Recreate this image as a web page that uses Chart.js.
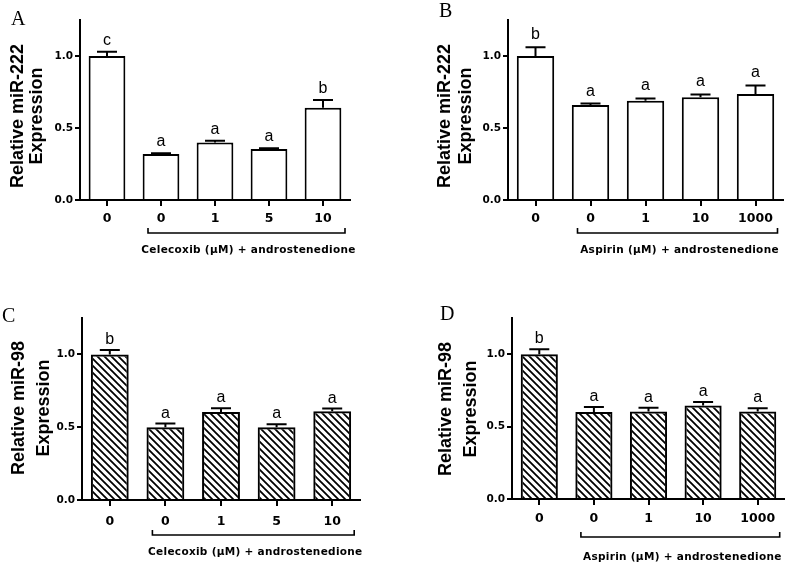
<!DOCTYPE html>
<html>
<head>
<meta charset="utf-8">
<script src="https://cdn.jsdelivr.net/npm/chart.js@4/dist/chart.umd.min.js"></script>
<style>
  body { margin: 0; background: #fff; }
  #page { position: relative; width: 785px; height: 563px; overflow: hidden; background: #fff; }
  canvas { position: absolute; }
</style>
</head>
<body>
<div id="page">
  <canvas id="panelA" width="390" height="280" style="left:0;top:0"></canvas>
  <canvas id="panelB" width="395" height="280" style="left:390px;top:0"></canvas>
  <canvas id="panelC" width="390" height="283" style="left:0;top:280px"></canvas>
  <canvas id="panelD" width="395" height="283" style="left:390px;top:280px"></canvas>
</div>
<script>
// doses on the x axis
const celecoxibDoses = ['0', '0', '1', '5', '10'];
const aspirinDoses = ['0', '0', '1', '10', '1000'];
const yTickValues = [0, 0.5, 1.0];

// A: miR-222, celecoxib
const mir222Celecoxib = [1.0, 0.32, 0.40, 0.355, 0.64];
const mir222CelecoxibSem = [0.03, 0.005, 0.012, 0.005, 0.055];
const mir222CelecoxibLetters = ['c', 'a', 'a', 'a', 'b'];

// B: miR-222, aspirin
const mir222Aspirin = [1.0, 0.66, 0.69, 0.713, 0.736];
const mir222AspirinSem = [0.06, 0.01, 0.015, 0.02, 0.06];
const mir222AspirinLetters = ['b', 'a', 'a', 'a', 'a'];

// C: miR-98, celecoxib
const mir98Celecoxib = [1.0, 0.50, 0.605, 0.50, 0.61];
const mir98CelecoxibSem = [0.03, 0.025, 0.025, 0.02, 0.018];
const mir98CelecoxibLetters = ['b', 'a', 'a', 'a', 'a'];

// D: miR-98, aspirin
const mir98Aspirin = [1.0, 0.60, 0.605, 0.645, 0.605];
const mir98AspirinSem = [0.035, 0.035, 0.025, 0.025, 0.022];
const mir98AspirinLetters = ['b', 'a', 'a', 'a', 'a'];

const SANS = "'Liberation Sans', Arial, sans-serif";
const WIDE = "'DejaVu Sans', sans-serif";
const SERIF = "'Liberation Serif', 'Times New Roman', serif";

function hatchPattern() {
  const size = 7;
  const c = document.createElement('canvas');
  c.width = size; c.height = size;
  const g = c.getContext('2d');
  g.strokeStyle = '#000';
  g.lineWidth = 1.8;
  g.beginPath();
  for (const k of [-size, 0, size]) {
    g.moveTo(k - 1, -1);
    g.lineTo(k + size + 1, size + 1);
  }
  g.stroke();
  return g.createPattern(c, 'repeat');
}

function decorPlugin(spec) {
  return {
    id: 'panelDecor',
    afterDatasetsDraw(chart) {
      const { ctx, chartArea } = chart;
      const xs = chart.scales.x, ys = chart.scales.y;
      const meta = chart.getDatasetMeta(0);
      const vals = chart.data.datasets[0].data;
      ctx.save();
      ctx.strokeStyle = '#000';
      ctx.fillStyle = '#000';
      ctx.lineWidth = 2;

      // error bars (upper half) + significance letters
      meta.data.forEach((bar, i) => {
        const yTop = ys.getPixelForValue(vals[i]);
        const yErr = ys.getPixelForValue(vals[i] + spec.sem[i]);
        ctx.beginPath();
        ctx.moveTo(bar.x, yTop);
        ctx.lineTo(bar.x, yErr);
        ctx.moveTo(bar.x - 10, yErr);
        ctx.lineTo(bar.x + 10, yErr);
        ctx.stroke();
        ctx.font = '16px ' + SANS;
        ctx.textAlign = 'center';
        ctx.textBaseline = 'alphabetic';
        ctx.fillText(spec.letters[i], bar.x, yErr - spec.letterGap);
      });

      // bracket under the treated groups
      const x1 = xs.getPixelForValue(1) - 13;
      const x2 = xs.getPixelForValue(4) + 22;
      const yb = chartArea.bottom + spec.bracketY;
      ctx.lineWidth = 1.6;
      ctx.beginPath();
      ctx.moveTo(x1, yb - 5);
      ctx.lineTo(x1, yb);
      ctx.lineTo(x2, yb);
      ctx.lineTo(x2, yb - 5);
      ctx.stroke();
      ctx.font = 'bold 10.5px ' + WIDE;
      ctx.letterSpacing = '0.3px';
      ctx.textBaseline = 'middle';
      ctx.fillText(spec.bracketLabel, (x1 + x2) / 2 + 2, chartArea.bottom + spec.labelY);
      ctx.letterSpacing = '0px';

      // y axis title, two lines rotated
      ctx.save();
      ctx.translate(0, spec.titleY);
      ctx.rotate(-Math.PI / 2);
      ctx.font = 'bold 18px ' + SANS;
      ctx.fillText(spec.title[0], 0, spec.titleX[0]);
      ctx.fillText(spec.title[1], 0, spec.titleX[1]);
      ctx.restore();

      // panel letter
      ctx.font = '20px ' + SERIF;
      ctx.textAlign = 'left';
      ctx.textBaseline = 'alphabetic';
      ctx.fillText(spec.panel, spec.panelX, spec.panelY);
      ctx.restore();
    }
  };
}

function buildPanel(id, spec) {
  const canvas = document.getElementById(id);
  const w = canvas.width, h = canvas.height;
  const axisBorder = { display: true, color: '#000', width: 2 };
  const tickGrid = { display: true, drawOnChartArea: false, drawTicks: true, color: '#000', lineWidth: 2 };
  return new Chart(canvas, {
    type: 'bar',
    data: {
      labels: spec.labels,
      datasets: [{
        data: spec.values,
        backgroundColor: spec.fill,
        borderColor: '#000',
        borderWidth: 2,
        barPercentage: 0.68,
        categoryPercentage: 1.0
      }]
    },
    options: {
      responsive: false,
      animation: false,
      devicePixelRatio: 1,
      layout: {
        padding: {
          left: spec.area.left - 40,
          right: w - spec.area.right,
          top: spec.area.top,
          bottom: h - spec.area.bottom - 30
        }
      },
      plugins: { legend: { display: false }, tooltip: { enabled: false } },
      scales: {
        x: {
          offset: true,
          border: axisBorder,
          grid: Object.assign({}, tickGrid, { offset: false, tickLength: 6 }),
          ticks: {
            color: '#000',
            padding: spec.xTickPad,
            maxRotation: 0,
            autoSkip: false,
            font: { family: WIDE, size: 12.5, weight: 'bold' }
          },
          afterFit: s => { s.height = 30; }
        },
        y: {
          min: 0,
          max: 1.25,
          border: axisBorder,
          grid: Object.assign({}, tickGrid, { tickLength: 5 }),
          afterBuildTicks: s => { s.ticks = yTickValues.map(v => ({ value: v })); },
          ticks: {
            color: '#000',
            padding: 2,
            callback: v => Number(v).toFixed(1),
            font: { family: WIDE, size: 10.5, weight: 'bold' }
          },
          afterFit: s => { s.width = 40; }
        }
      }
    },
    plugins: [decorPlugin(spec)]
  });
}

const hatch = hatchPattern();

buildPanel('panelA', {
  labels: celecoxibDoses, values: mir222Celecoxib, sem: mir222CelecoxibSem,
  letters: mir222CelecoxibLetters, fill: '#fff',
  area: { left: 80, right: 350, top: 20, bottom: 200 },
  xTickPad: 5, letterGap: 7, bracketY: 33, labelY: 50,
  bracketLabel: 'Celecoxib (\u00b5M) + androstenedione',
  title: ['Relative miR-222', 'Expression'], titleX: [18, 37], titleY: 116,
  panel: 'A', panelX: 11, panelY: 25
});

buildPanel('panelB', {
  labels: aspirinDoses, values: mir222Aspirin, sem: mir222AspirinSem,
  letters: mir222AspirinLetters, fill: '#fff',
  area: { left: 118, right: 393, top: 20, bottom: 200 },
  xTickPad: 5, letterGap: 8, bracketY: 33, labelY: 50,
  bracketLabel: 'Aspirin (\u00b5M) + androstenedione',
  title: ['Relative miR-222', 'Expression'], titleX: [55, 76], titleY: 116,
  panel: 'B', panelX: 49, panelY: 17
});

buildPanel('panelC', {
  labels: celecoxibDoses, values: mir98Celecoxib, sem: mir98CelecoxibSem,
  letters: mir98CelecoxibLetters, fill: hatch,
  area: { left: 82, right: 360, top: 38, bottom: 220 },
  xTickPad: 8, letterGap: 6, bracketY: 35, labelY: 52,
  bracketLabel: 'Celecoxib (\u00b5M) + androstenedione',
  title: ['Relative miR-98', 'Expression'], titleX: [19, 44], titleY: 128,
  panel: 'C', panelX: 2, panelY: 42
});

buildPanel('panelD', {
  labels: aspirinDoses, values: mir98Aspirin, sem: mir98AspirinSem,
  letters: mir98AspirinLetters, fill: hatch,
  area: { left: 122, right: 395, top: 38, bottom: 219 },
  xTickPad: 6, letterGap: 6, bracketY: 38, labelY: 58,
  bracketLabel: 'Aspirin (\u00b5M) + androstenedione',
  title: ['Relative miR-98', 'Expression'], titleX: [56, 81], titleY: 129,
  panel: 'D', panelX: 50, panelY: 40
});
</script>
</body>
</html>
